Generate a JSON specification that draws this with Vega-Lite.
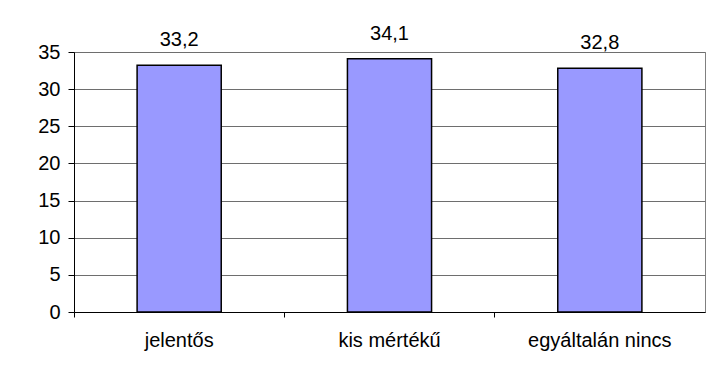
{
  "$schema": "https://vega.github.io/schema/vega-lite/v6.json",
  "width": 631,
  "height": 260,
  "autosize": "none",
  "padding": {"left": 74, "top": 52, "right": 7, "bottom": 66},
  "background": "white",
  "config": {
    "locale": {"number": {"decimal": ",", "thousands": " ", "grouping": [3], "currency": ["", ""]}},
    "view": {"stroke": "#808080", "strokeWidth": 1},
    "font": "Liberation Sans"
  },
  "data": {
    "values": [
      {"kategoria": "jelentős", "ertek": 33.2},
      {"kategoria": "kis mértékű", "ertek": 34.1},
      {"kategoria": "egyáltalán nincs", "ertek": 32.8}
    ]
  },
  "encoding": {
    "x": {
      "field": "kategoria",
      "type": "nominal",
      "sort": null,
      "scale": {"paddingInner": 0, "paddingOuter": 0},
      "axis": {
        "title": null,
        "labelAngle": 0,
        "bandPosition": 0,
        "domainColor": "black",
        "tickColor": "black",
        "tickSize": 5,
        "labelFont": "Liberation Sans",
        "labelFontSize": 20,
        "labelColor": "black",
        "labelPadding": 13,
        "grid": false
      }
    },
    "y": {
      "field": "ertek",
      "type": "quantitative",
      "scale": {"domain": [0, 35], "nice": false},
      "axis": {
        "title": null,
        "values": [0, 5, 10, 15, 20, 25, 30, 35],
        "format": "d",
        "grid": true,
        "gridColor": "#6e6e6e",
        "gridOpacity": 1,
        "domainColor": "black",
        "tickColor": "black",
        "tickSize": 6,
        "labelFont": "Liberation Sans",
        "labelFontSize": 20,
        "labelColor": "black",
        "labelPadding": 8
      }
    }
  },
  "layer": [
    {
      "mark": {"type": "bar", "width": {"band": 0.4}, "fill": "#9999FF", "stroke": "black", "strokeWidth": 1.5},
      "encoding": {}
    },
    {
      "mark": {"type": "text", "baseline": "alphabetic", "dy": -19, "font": "Liberation Sans", "fontSize": 20, "color": "black"},
      "encoding": {
        "text": {"field": "ertek", "type": "quantitative", "format": ".1f"}
      }
    }
  ]
}
